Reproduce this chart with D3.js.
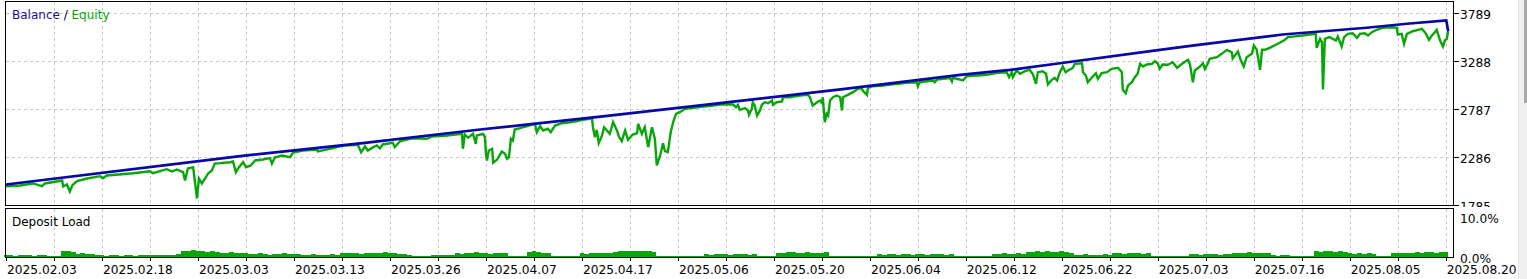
<!DOCTYPE html>
<meta charset="utf-8">
<style>
body { margin: 0; background: #fff; }
svg { display: block; font-family: "DejaVu Sans", sans-serif; }
.grid line { stroke: #c8c8c8; stroke-dasharray: 3,3; shape-rendering: crispEdges; }
.frame { fill: none; stroke: #000; stroke-width: 1.3; shape-rendering: crispEdges; }
.axis text { font-size: 12.2px; fill: #000; }
.axis line { stroke: #000; shape-rendering: crispEdges; }
</style>
<body>
<svg width="1527" height="279"></svg>
<script src="https://d3js.org/d3.v7.min.js"></script>
<script>
// Balance / Equity test report, deposit load below

// x is the deal index, grid every 10, date label every 20
var dateLabels = ["2025.02.03", "2025.02.18", "2025.03.03", "2025.03.13", "2025.03.26", "2025.04.07",
    "2025.04.17", "2025.05.06", "2025.05.20", "2025.06.04", "2025.06.12", "2025.06.22",
    "2025.07.03", "2025.07.16", "2025.08.05", "2025.08.20"];

var valueTicks = [1785, 2286, 2787, 3288, 3789];
var loadTicks = [0, 10];

// [deal index, balance]
var balance = [
  [0, 2004], [48.8, 2300], [74.8, 2439], [98.8, 2578], [124.8, 2717], [148.8, 2853],
  [174.8, 3003], [198.8, 3149], [209.2, 3201], [219.6, 3270], [240.4, 3410], [248.8, 3465],
  [266.0, 3570], [283.5, 3640], [291.9, 3682], [300.1, 3716], [300.5, 3604]
];

// [deal index, equity]
var equity = [
  [0.0, 1986], [2.9, 1994], [5.6, 2015], [7.5, 1986], [8.1, 2015], [11.7, 2046], [11.9, 1983],
  [12.7, 2004], [13.3, 1931], [13.8, 1994], [14.8, 2039], [16.9, 2067], [19.6, 2091], [20.2, 2070],
  [21.0, 2098], [26.5, 2122], [30.0, 2143], [30.6, 2122], [33.5, 2164], [34.6, 2140], [35.6, 2161],
  [36.9, 2133], [37.3, 2046], [37.9, 2171], [39.0, 2185], [39.2, 2098], [39.8, 1858], [40.2, 2067],
  [40.8, 2015], [41.5, 2067], [42.1, 2119], [42.9, 2150], [43.5, 2223], [44.6, 2227], [46.7, 2237],
  [47.3, 2244], [47.9, 2133], [48.5, 2182], [49.4, 2237], [50.0, 2185], [51.0, 2203], [51.9, 2255],
  [53.5, 2265], [55.0, 2279], [55.4, 2223], [56.0, 2286], [57.5, 2307], [59.2, 2289], [59.8, 2338],
  [61.9, 2359], [64.8, 2370], [65.0, 2349], [68.1, 2383], [70.2, 2411], [73.3, 2419], [74.0, 2341],
  [74.8, 2401], [75.4, 2359], [76.5, 2394], [77.3, 2411], [77.9, 2380], [78.5, 2422], [80.6, 2439],
  [81.0, 2394], [82.1, 2456], [83.5, 2474], [84.8, 2487], [87.7, 2481], [88.8, 2505], [91.9, 2516],
  [95.0, 2533], [95.2, 2377], [95.6, 2526], [96.3, 2492], [97.3, 2533], [97.9, 2429], [98.1, 2516],
  [99.4, 2533], [99.8, 2498], [100.0, 2325], [100.2, 2255], [100.6, 2359], [101.3, 2377], [101.5, 2231],
  [102.3, 2262], [103.3, 2349], [104.0, 2325], [104.4, 2272], [104.8, 2289], [105.2, 2481], [105.6, 2463],
  [106.0, 2578], [107.1, 2592], [107.7, 2602], [110.2, 2638], [110.6, 2550], [111.3, 2613], [111.9, 2568],
  [112.9, 2586], [113.5, 2550], [114.4, 2620], [115.8, 2644], [117.5, 2654], [119.0, 2665], [120.2, 2680],
  [122.1, 2696], [122.3, 2602], [122.7, 2498], [123.1, 2575], [123.5, 2435], [124.2, 2516], [124.6, 2602],
  [125.2, 2568], [125.8, 2533], [126.5, 2654], [127.3, 2568], [127.7, 2505], [128.3, 2456], [129.0, 2568],
  [129.6, 2471], [130.6, 2526], [131.5, 2540], [131.7, 2638], [132.5, 2533], [133.1, 2602], [133.8, 2394],
  [134.6, 2602], [135.2, 2481], [135.6, 2203], [136.3, 2307], [136.9, 2435], [137.3, 2352], [137.9, 2341],
  [138.5, 2550], [139.0, 2654], [139.6, 2742], [140.4, 2759], [141.5, 2794], [144.0, 2811], [147.3, 2829],
  [148.8, 2839], [151.5, 2839], [152.1, 2811], [152.5, 2836], [152.9, 2784], [154.0, 2801], [154.6, 2777],
  [154.8, 2732], [155.4, 2794], [155.6, 2863], [156.0, 2829], [156.5, 2724], [157.1, 2777], [157.5, 2836],
  [158.1, 2863], [158.8, 2853], [159.6, 2881], [159.8, 2836], [160.6, 2863], [161.7, 2871], [161.9, 2915],
  [163.3, 2915], [165.4, 2933], [167.1, 2940], [167.5, 2915], [168.1, 2829], [169.0, 2863], [169.6, 2881],
  [170.0, 2857], [170.2, 2915], [170.6, 2654], [171.0, 2742], [171.3, 2724], [171.7, 2881], [172.3, 2915],
  [173.1, 2933], [173.8, 2915], [174.2, 2777], [174.4, 2915], [175.4, 2940], [176.5, 2968], [177.3, 2996],
  [178.3, 3014], [178.5, 2985], [179.4, 2940], [179.6, 3014], [180.6, 3030], [182.7, 3038], [184.8, 3051],
  [187.7, 3066], [189.8, 3072], [190.0, 3030], [190.4, 3072], [193.1, 3090], [193.5, 3072], [194.0, 3100],
  [196.7, 3114], [197.1, 3079], [197.3, 3118], [199.4, 3090], [200.2, 3135], [202.3, 3142], [204.4, 3149],
  [206.5, 3170], [208.5, 3176], [209.0, 3124], [209.6, 3176], [209.8, 3124], [210.6, 3194], [211.3, 3160],
  [212.3, 3187], [213.3, 3201], [214.0, 3152], [214.6, 3055], [215.0, 3176], [216.0, 3187], [216.7, 3160],
  [217.1, 3048], [217.9, 3097], [218.5, 3118], [219.0, 3090], [219.6, 3176], [220.2, 3236], [220.8, 3176],
  [221.3, 3194], [222.3, 3222], [222.7, 3264], [224.2, 3270], [224.4, 3176], [225.0, 3142], [225.4, 3072],
  [226.3, 3124], [227.1, 3166], [227.5, 3107], [228.3, 3166], [229.4, 3176], [230.4, 3212], [231.7, 3222],
  [232.5, 3176], [232.7, 2993], [233.3, 2957], [233.8, 3038], [234.6, 3072], [235.2, 3124], [235.8, 3160],
  [236.3, 3264], [236.9, 3236], [237.7, 3257], [238.8, 3264], [239.4, 3291], [240.0, 3264], [240.4, 3212],
  [241.0, 3257], [242.1, 3254], [243.1, 3281], [244.0, 3222], [244.6, 3246], [245.2, 3270], [246.3, 3306],
  [246.7, 3257], [247.3, 3072], [247.7, 3194], [248.8, 3236], [249.4, 3270], [249.8, 3212], [250.4, 3264],
  [250.8, 3316], [252.3, 3333], [253.3, 3368], [254.4, 3410], [255.4, 3385], [255.6, 3322], [256.7, 3392],
  [257.3, 3298], [257.9, 3236], [258.5, 3333], [259.6, 3368], [260.0, 3455], [260.6, 3410], [261.3, 3201],
  [261.7, 3410], [262.3, 3410], [263.3, 3431], [265.0, 3473], [266.5, 3514], [267.1, 3542], [269.6, 3556],
  [271.7, 3570], [272.9, 3577], [273.1, 3431], [273.8, 3525], [274.2, 3489], [274.4, 2996], [274.8, 3525],
  [275.8, 3542], [277.1, 3507], [277.5, 3549], [278.3, 3445], [278.8, 3542], [279.6, 3577], [280.6, 3583],
  [281.5, 3535], [282.1, 3577], [283.1, 3583], [283.8, 3559], [284.6, 3594], [285.6, 3619], [286.7, 3640],
  [288.8, 3646], [289.8, 3640], [290.0, 3570], [290.8, 3577], [291.3, 3473], [291.9, 3577], [293.1, 3604],
  [294.2, 3619], [295.0, 3629], [295.8, 3583], [296.5, 3514], [297.1, 3559], [297.7, 3594], [298.1, 3619],
  [298.8, 3507], [299.4, 3445], [299.8, 3507], [300.2, 3525], [300.5, 3604]
];

// deposit load in %, one value per deal index 0..300
var depositLoad = [
  0.4, 0.5, 0.3, 0.5, 0.4, 0.6, 0.3, 0.5, 0.4, 0.3,
  0.2, 0.3,
  1.5, 1.4, 1.2,
  0.8, 0.9, 0.7, 0.8, 0.6,
  0.5, 0.3, 0.4, 0.5, 0.2, 0.4, 0.5, 0.3, 0.4, 0.5,
  0.5, 0.6, 0.4, 0.5, 0.6, 0.5, 0.7,
  1.6, 1.5, 1.7, 1.4, 1.6, 1.3, 1.5,
  1.2, 1.0, 1.1, 1.2, 0.9, 1.0, 1.1,
  0.8, 0.7, 0.9, 0.8, 0.6, 0.8, 0.7, 0.9, 0.8, 0.7, 0.8,
  0.6, 0.5, 0.7, 0.6, 0.5, 0.6, 0.7, 0.6,
  1.0, 0.9, 1.1, 1.0, 0.8, 1.0, 1.1, 0.9, 1.0, 1.2, 1.0, 0.9,
  0.7, 0.7, 0.6,
  0.2, 0.3, 0.2, 0.3,
  0.5, 0.4, 0.6, 0.5, 0.4,
  0.9, 0.8, 1.0, 0.9, 1.3,
  0.9, 1.0, 0.8, 0.9, 1.0, 0.9,
  0.2, 0.3, 0.2, 0.2,
  1.2, 1.5, 1.2, 1.1, 1.0,
  0.2, 0.3, 0.2, 0.2, 0.3, 0.2,
  0.9, 0.8, 1.0, 0.9, 1.0, 0.9, 1.1,
  1.3, 1.4, 1.5, 1.4, 1.6, 1.5, 1.4, 1.5, 1.3,
  0.2, 0.3, 0.2, 0.2, 0.3, 0.2, 0.3, 0.2, 0.2, 0.3,
  0.7, 0.6, 0.7, 0.8, 0.7, 0.6, 0.7, 0.8, 0.7, 0.6, 0.7,
  0.2, 0.3, 0.2, 0.3,
  1.1, 1.0, 1.2, 1.3, 1.1, 1.0, 1.2, 1.1, 1.0, 0.9, 1.2,
  0.2, 0.3, 0.2, 0.3, 0.2, 0.2, 0.3, 0.2, 0.3, 0.2,
  0.7, 0.6, 0.7, 0.8, 0.6, 0.7, 0.7, 0.6, 0.8, 0.7, 0.6, 0.7, 0.8, 0.7, 0.6, 0.7,
  0.3, 0.2, 0.3, 0.2, 0.3, 0.2, 0.3, 0.2,
  0.8, 0.7, 0.9, 0.8, 0.7, 0.9, 0.8,
  1.3, 1.2, 1.4, 1.3, 1.5, 1.2, 1.3, 1.4, 1.2, 1.1,
  0.6, 0.5, 0.7, 0.6, 0.5, 0.6, 0.7, 0.5,
  0.9, 1.0, 0.8, 0.9, 1.0, 0.9, 0.8, 1.0,
  0.3, 0.2, 0.3, 0.2, 0.3, 0.2, 0.3, 0.2,
  0.7, 0.8, 0.6, 0.7, 0.8, 0.7, 0.6, 0.7, 0.8,
  1.0, 1.1, 0.9, 1.2, 1.0, 1.1, 0.9, 1.0,
  0.4, 0.3, 0.5, 0.4, 0.3, 0.2,
  0.3, 0.2, 0.3,
  1.4, 1.3, 1.4, 1.5, 1.3, 1.4, 1.3,
  0.9, 0.8, 0.9, 0.8, 0.9, 0.8,
  0.3, 0.2, 0.3,
  1.0, 0.9, 1.0, 1.1, 1.0,
  1.2, 1.1, 1.3, 1.2, 1.1, 1.2, 1.3
];

var svg = d3.select("svg"),
    left = 5.5, right = 1453.5,
    mainTop = 1.5, mainBottom = 205.5,
    loadTop = 208.5, loadBottom = 257.5;

var x = d3.scaleLinear().domain([0, 301.5]).range([6, 1453]);
var y = d3.scaleLinear().domain([1785, 3789]).range([205.5, 13.5]);
var yLoad = d3.scaleLinear().domain([0, 10]).range([257, 217]);

var gridX = d3.range(10, 301, 10);

// scrollbar strip at the right edge
svg.append("rect").attr("x", 1518).attr("y", 0).attr("width", 9).attr("height", 279).attr("fill", "#f0f0f0");
svg.append("line").attr("x1", 1518.5).attr("x2", 1518.5).attr("y1", 0).attr("y2", 279).attr("stroke", "#e2e2e2");
svg.append("rect").attr("x", 1524).attr("y", 0).attr("width", 3).attr("height", 103).attr("fill", "#a9a9a9");

var defs = svg.append("defs");
defs.append("clipPath").attr("id", "clipMain")
  .append("rect").attr("x", left).attr("y", mainTop).attr("width", right - left).attr("height", mainBottom - mainTop);
defs.append("clipPath").attr("id", "clipLabels")
  .append("rect").attr("x", right).attr("y", 0).attr("width", 70).attr("height", 207);

/* ---------------- main panel ---------------- */
var grid = svg.append("g").attr("class", "grid");
grid.selectAll(".gx").data(gridX).enter().append("line")
    .attr("x1", function(d) { return Math.round(x(d)) + 0.5; })
    .attr("x2", function(d) { return Math.round(x(d)) + 0.5; })
    .attr("y1", mainTop).attr("y2", mainBottom);
grid.selectAll(".gy").data(valueTicks.slice(1)).enter().append("line")
    .attr("x1", left).attr("x2", right)
    .attr("y1", function(d) { return y(d); })
    .attr("y2", function(d) { return y(d); });

var plot = svg.append("g").attr("clip-path", "url(#clipMain)");

var line = d3.line()
    .x(function(d) { return x(d[0]); })
    .y(function(d) { return y(d[1]); });

plot.append("path")
    .datum(equity)
    .attr("fill", "none")
    .attr("stroke", "#0aa50a")
    .attr("stroke-width", 2.4)
    .attr("stroke-linejoin", "miter")
    .attr("d", line);

plot.append("path")
    .datum(balance)
    .attr("fill", "none")
    .attr("stroke", "#0808a8")
    .attr("stroke-width", 2.7)
    .attr("d", line);

svg.append("rect").attr("class", "frame")
    .attr("x", left).attr("y", mainTop).attr("width", right - left).attr("height", mainBottom - mainTop);

var legend = svg.append("text")
    .attr("x", 12).attr("y", 18.5)
    .style("font-size", "12px");
legend.append("tspan").attr("fill", "#1f0fa8").text("Balance");
legend.append("tspan").attr("fill", "#000").text(" / ");
legend.append("tspan").attr("fill", "#0aa50a").text("Equity");

var yAxis = svg.append("g").attr("class", "axis").attr("clip-path", "url(#clipLabels)");
yAxis.selectAll("line").data(valueTicks).enter().append("line")
    .attr("x1", right).attr("x2", right + 5)
    .attr("y1", function(d) { return y(d); })
    .attr("y2", function(d) { return y(d); });
yAxis.selectAll("text").data(valueTicks).enter().append("text")
    .attr("x", 1460)
    .attr("y", function(d) { return y(d) + 5.8; })
    .text(function(d) { return d; });

/* ---------------- deposit load panel ---------------- */
var grid2 = svg.append("g").attr("class", "grid");
grid2.selectAll("line").data(gridX).enter().append("line")
    .attr("x1", function(d) { return Math.round(x(d)) + 0.5; })
    .attr("x2", function(d) { return Math.round(x(d)) + 0.5; })
    .attr("y1", loadTop).attr("y2", loadBottom);

svg.append("g")
    .attr("fill", "#0aa50a")
    .attr("shape-rendering", "crispEdges")
  .selectAll("rect")
  .data(depositLoad)
  .enter().append("rect")
    .attr("x", function(d, i) { return x(i) - 2.4; })
    .attr("y", function(d) { return yLoad(d); })
    .attr("width", 4.9)
    .attr("height", function(d) { return yLoad(0) - yLoad(d); });

svg.append("rect").attr("class", "frame")
    .attr("x", left).attr("y", loadTop).attr("width", right - left).attr("height", loadBottom - loadTop);

svg.append("text")
    .attr("x", 12).attr("y", 225.5)
    .style("font-size", "12px")
    .text("Deposit Load");

var loadAxis = svg.append("g").attr("class", "axis");
loadAxis.selectAll("text").data(loadTicks).enter().append("text")
    .attr("x", 1460)
    .attr("y", function(d) { return yLoad(d) + 5.6; })
    .text(function(d) { return d.toFixed(1) + "%"; });

/* ---------------- bottom date axis ---------------- */
var xAxis = svg.append("g").attr("class", "axis");
xAxis.selectAll("line").data(d3.range(0, 301, 10)).enter().append("line")
    .attr("x1", function(d) { return Math.round(x(d)) + 0.5; })
    .attr("x2", function(d) { return Math.round(x(d)) + 0.5; })
    .attr("y1", loadBottom).attr("y2", loadBottom + 3.5);
xAxis.selectAll("text").data(dateLabels).enter().append("text")
    .attr("x", function(d, i) { return x(i * 20) + 1; })
    .attr("y", 274)
    .text(function(d) { return d; });
</script>
</body>
